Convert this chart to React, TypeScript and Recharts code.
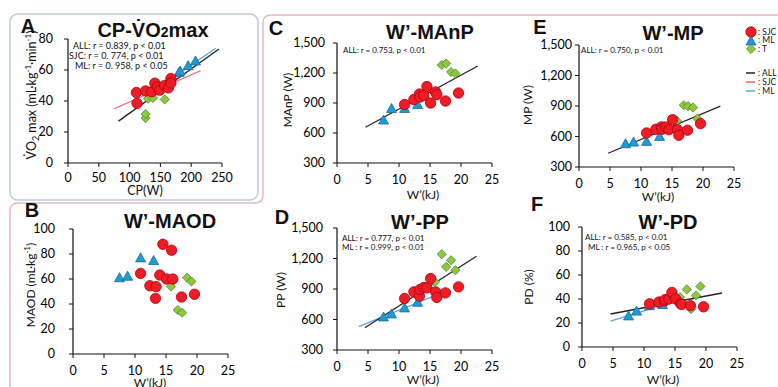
import React from 'react'
import { ScatterChart, Scatter, XAxis, YAxis, ReferenceLine } from 'recharts'

// W' (kJ) per subject, same subjects in panels B-F
const wSJC = [10.9, 12.4, 13.3, 13.4, 14.0, 14.5, 15.1, 15.9, 16.1, 17.5, 19.6]
const wML = [7.5, 8.8, 10.9, 13.0]
const wT = [15.8, 16.9, 17.6, 18.4, 19.1]

// A: CP (W) vs VO2max
const cpSJC = [111, 112, 126, 136, 141, 145, 149, 157, 163, 167, 167]
const vo2SJC = [45.5, 38.5, 46.5, 46, 51.5, 49, 47, 50, 48.5, 54.5, 51.5]
const cpML = [180, 182, 195, 207]
const vo2ML = [58, 59, 62.5, 65.5]
const cpT = [126, 126, 130, 138, 157]
const vo2T = [29, 31.5, 41.5, 42, 41]

// B: MAOD
const maodSJC = [64.5, 54.6, 44.5, 53.9, 63.2, 87.8, 60, 83, 60, 45.6, 47.8]
const maodML = [60.6, 61.8, 76.5, 74.4]
const maodT = [54, 35.2, 33, 61, 58]

// C: MAnP
const manpSJC = [885, 935, 990, 960, 975, 1065, 900, 1010, 985, 920, 1000]
const manpML = [725, 840, 840, 880]
const manpT = [1010, 1280, 1295, 1210, 1195]

// D: PP
const ppSJC = [807, 872, 830, 895, 915, 911, 1003, 872, 817, 862, 921]
const ppML = [620, 650, 709, 764]
const ppT = [970, 1242, 1118, 1183, 1085]

// E: MP
const mpSJC = [635, 671, 694, 671, 694, 667, 766, 667, 612, 662, 727]
const mpML = [524, 540, 547, 596]
const mpT = [753, 908, 898, 885, 776]

// F: PD
const pdSJC = [36, 37.5, 38.5, 39.5, 40, 45.5, 40, 36, 35.5, 34.5, 33.5]
const pdML = [25.5, 29.5, 34, 35]
const pdT = [41.5, 48, 31.5, 43, 50.5]

// regression line end points [x, y]
const lineA_ALL = [[82, 27], [245, 73.5]]
const lineA_SJC = [[75, 35], [215, 59.5]]
const lineA_ML = [[140, 47], [240, 74]]
const lineC_ALL = [[4.6, 658], [22.7, 1270]]
const lineD_ALL = [[4.5, 519], [22.5, 1222]]
const lineD_ML = [[3.5, 529], [15.6, 830]]
const lineE_ALL = [[4.7, 435], [22.8, 898]]
const lineF_ALL = [[4.6, 27.5], [22.6, 45]]
const lineF_ML = [[4.6, 21.5], [15, 38]]

const wTicks = [0, 5, 10, 15, 20, 25]
const cpTicks = [0, 50, 100, 150, 200, 250]
const vo2Ticks = [0, 20, 40, 60, 80]
const pctTicks = [0, 20, 40, 60, 80, 100]
const wattTicks = [300, 600, 900, 1200, 1500]

const FONT = 'Lato, "Open Sans", sans-serif'
const TITLE_FONT = '"Liberation Sans", Arial, sans-serif'
const BLACK = '#222'
const RED_LINE = '#f0607a'
const BLUE_LINE = '#5aa7e0'

const zip = (xs: number[], ys: number[]) => xs.map((x, i) => ({ x, y: ys[i] }))

const Circle = (p: any) => (
  <circle cx={p.cx} cy={p.cy} r={5.2} fill="#ee1c25" stroke="#b00010" strokeWidth={0.8} />
)
const Tri = (p: any) => (
  <polygon
    points={`${p.cx},${p.cy - 5.5} ${p.cx - 5},${p.cy + 3.5} ${p.cx + 5},${p.cy + 3.5}`}
    fill="#1d9bd7"
    stroke="#1a6a98"
    strokeWidth={0.8}
  />
)
const Diamond = (p: any) => (
  <polygon
    points={`${p.cx},${p.cy - 4.6} ${p.cx + 4.6},${p.cy} ${p.cx},${p.cy + 4.6} ${p.cx - 4.6},${p.cy}`}
    fill="#8dc63f"
    stroke="#4f8a2a"
    strokeWidth={0.8}
  />
)

type Seg = { pts: number[][]; color: string }

function Panel(props: {
  left: number
  top: number
  w: number
  h: number
  xDomain: number[]
  xTicks: number[]
  yDomain: number[]
  yTicks: number[]
  sjc: { x: number; y: number }[]
  ml: { x: number; y: number }[]
  t: { x: number; y: number }[]
  lines: Seg[]
  xGap: number
  yGap: number
}) {
  const yw = 50
  const mt = 12
  const mr = 18
  const xh = 30
  const tick = { fill: '#000', fontSize: 12.5, fontFamily: FONT }
  return (
    <div style={{ position: 'absolute', left: props.left - yw, top: props.top - mt }}>
      <ScatterChart
        width={props.w + yw + mr}
        height={props.h + mt + xh}
        margin={{ top: mt, right: mr, bottom: 0, left: 0 }}
      >
        <XAxis
          type="number"
          dataKey="x"
          domain={props.xDomain}
          ticks={props.xTicks}
          interval={0}
          height={xh}
          tick={tick}
          tickSize={4}
          tickMargin={props.xGap}
          axisLine={{ stroke: '#111', strokeWidth: 1.2 }}
          tickLine={{ stroke: '#111' }}
        />
        <YAxis
          type="number"
          dataKey="y"
          domain={props.yDomain}
          ticks={props.yTicks}
          interval={0}
          width={yw}
          tick={tick}
          tickSize={4}
          tickMargin={props.yGap}
          tickFormatter={(v: number) => v.toLocaleString('en-US')}
          axisLine={{ stroke: '#111', strokeWidth: 1.2 }}
          tickLine={{ stroke: '#111' }}
        />
        <Scatter data={props.t} shape={Diamond} isAnimationActive={false} />
        <Scatter data={props.ml} shape={Tri} isAnimationActive={false} />
        <Scatter data={props.sjc} shape={Circle} isAnimationActive={false} />
        {props.lines.map((l, i) => (
          <ReferenceLine
            key={i}
            segment={[
              { x: l.pts[0][0], y: l.pts[0][1] },
              { x: l.pts[1][0], y: l.pts[1][1] },
            ]}
            stroke={l.color}
            strokeWidth={1.3}
          />
        ))}
      </ScatterChart>
    </div>
  )
}

function Txt(props: {
  x: number
  y: number
  size?: number
  bold?: boolean
  rotate?: boolean
  left?: boolean
  font?: string
  children: React.ReactNode
}) {
  const tf = props.left
    ? 'translate(0,-50%)'
    : props.rotate
    ? 'translate(-50%,-50%) rotate(-90deg)'
    : 'translate(-50%,-50%)'
  return (
    <div
      style={{
        position: 'absolute',
        left: props.x,
        top: props.y,
        transform: tf,
        fontSize: props.size ?? 12,
        fontWeight: props.bold ? 700 : 400,
        fontFamily: props.font ?? FONT,
        whiteSpace: 'nowrap',
        lineHeight: 1,
        color: '#111',
      }}
    >
      {props.children}
    </div>
  )
}

const Title = ({ x, y, children }: { x: number; y: number; children: React.ReactNode }) => (
  <Txt x={x} y={y} size={20} bold font={TITLE_FONT}>
    {children}
  </Txt>
)

const Note = ({ x, y, children, size = 8 }: { x: number; y: number; children: React.ReactNode; size?: number }) => (
  <Txt x={x} y={y} size={size} left>
    {children}
  </Txt>
)

function LegendRow({ y, kind, label }: { y: number; kind: string; label: string }) {
  let mark: React.ReactNode = null
  if (kind === 'c') mark = <Circle cx={6} cy={5} />
  if (kind === 't') mark = <Tri cx={6} cy={5.5} />
  if (kind === 'd') mark = <Diamond cx={6} cy={5} />
  if (kind.startsWith('#')) mark = <line x1={1} x2={10} y1={5} y2={5} stroke={kind} strokeWidth={1.5} />
  return (
    <div
      style={{
        position: 'absolute',
        left: 745,
        top: y - 5,
        width: 34,
        height: 10,
        display: 'flex',
        alignItems: 'center',
        whiteSpace: 'nowrap',
      }}
    >
      <svg width={12} height={10} style={{ flexShrink: 0, overflow: 'visible' }}>{mark}</svg>
      <span style={{ fontFamily: FONT, fontSize: 8.5, color: '#111', marginLeft: 1, lineHeight: 1 }}>
        : {label}
      </span>
    </div>
  )
}

export default function App() {
  return (
    <div
      style={{
        position: 'absolute',
        left: 0,
        top: 0,
        width: 778,
        height: 387,
        background: '#fff',
        overflow: 'hidden',
      }}
    >
      <svg width={778} height={387} style={{ position: 'absolute', left: 0, top: 0 }}>
        <rect x={10} y={14} width={248} height={186} rx={8} fill="none" stroke="#b9cadb" strokeWidth={1.5} />
        <path
          d="M 10 400 L 10 211 Q 10 203 18 203 L 255 203 Q 263 203 263 195 L 263 23 Q 263 15 271 15 L 790 15"
          fill="none"
          stroke="#e7b9c7"
          strokeWidth={1.5}
        />
      </svg>

      {/* A */}
      <Panel
        left={68} top={39} w={154} h={124}
        xDomain={[0, 250]} xTicks={cpTicks} yDomain={[0, 80]} yTicks={vo2Ticks}
        sjc={zip(cpSJC, vo2SJC)} ml={zip(cpML, vo2ML)} t={zip(cpT, vo2T)}
        lines={[
          { pts: lineA_SJC, color: RED_LINE },
          { pts: lineA_ML, color: BLUE_LINE },
          { pts: lineA_ALL, color: BLACK },
        ]}
        xGap={6} yGap={11}
      />
      <Txt x={28} y={26} size={20} bold font={TITLE_FONT}>A</Txt>
      <Title x={153} y={30}>
        CP-V̇O<span style={{ fontSize: 14 }}>2</span>max
      </Title>
      <Note x={73} y={45} size={9}>ALL: r = 0.839, p &lt; 0.01</Note>
      <Note x={69} y={55} size={9}>SJC: r = 0. 774, p &lt; 0.01</Note>
      <Note x={75} y={65} size={9}>ML: r = 0. 958, p &lt; 0.05</Note>
      <Txt x={32} y={95} size={12.5} rotate>
        V̇O<sub style={{ fontSize: 9 }}>2</sub> max (mL·kg<sup style={{ fontSize: 8 }}>-1</sup>·min<sup style={{ fontSize: 8 }}>-1</sup>)
      </Txt>
      <Txt x={145} y={191} size={12.5}>CP(W)</Txt>

      {/* B */}
      <Panel
        left={73} top={229} w={155} h={125}
        xDomain={[0, 25]} xTicks={wTicks} yDomain={[0, 100]} yTicks={pctTicks}
        sjc={zip(wSJC, maodSJC)} ml={zip(wML, maodML)} t={zip(wT, maodT)}
        lines={[]}
        xGap={8} yGap={14}
      />
      <Txt x={32} y={210} size={20} bold font={TITLE_FONT}>B</Txt>
      <Title x={170} y={221}>W’-MAOD</Title>
      <Txt x={30} y={285} size={12} rotate>
        MAOD (mL·kg<sup style={{ fontSize: 8 }}>-1</sup>)
      </Txt>
      <Txt x={150} y={383} size={12}>W’(kJ)</Txt>

      {/* C */}
      <Panel
        left={337} top={43} w={155} h={120}
        xDomain={[0, 25]} xTicks={wTicks} yDomain={[300, 1500]} yTicks={wattTicks}
        sjc={zip(wSJC, manpSJC)} ml={zip(wML, manpML)} t={zip(wT, manpT)}
        lines={[{ pts: lineC_ALL, color: BLACK }]}
        xGap={8} yGap={8}
      />
      <Txt x={276} y={28} size={20} bold font={TITLE_FONT}>C</Txt>
      <Title x={430} y={32}>W’-MAnP</Title>
      <Note x={343} y={50}>ALL: r = 0.753, p &lt; 0.01</Note>
      <Txt x={288} y={100} size={12} rotate>MAnP (W)</Txt>
      <Txt x={423} y={195} size={12}>W’(kJ)</Txt>

      {/* D */}
      <Panel
        left={337} top={228} w={155} h={122}
        xDomain={[0, 25]} xTicks={wTicks} yDomain={[300, 1500]} yTicks={wattTicks}
        sjc={zip(wSJC, ppSJC)} ml={zip(wML, ppML)} t={zip(wT, ppT)}
        lines={[
          { pts: lineD_ML, color: BLUE_LINE },
          { pts: lineD_ALL, color: BLACK },
        ]}
        xGap={8} yGap={10}
      />
      <Txt x={282} y={217} size={20} bold font={TITLE_FONT}>D</Txt>
      <Title x={420} y={222}>W’-PP</Title>
      <Note x={342} y={238}>ALL: r = 0.777, p &lt; 0.01</Note>
      <Note x={342} y={247}>ML : r = 0.999, p &lt; 0.01</Note>
      <Txt x={281} y={290} size={12} rotate>PP (W)</Txt>
      <Txt x={423} y={380} size={12}>W’(kJ)</Txt>

      {/* E */}
      <Panel
        left={579} top={45} w={155} h={122}
        xDomain={[0, 25]} xTicks={wTicks} yDomain={[300, 1500]} yTicks={wattTicks}
        sjc={zip(wSJC, mpSJC)} ml={zip(wML, mpML)} t={zip(wT, mpT)}
        lines={[{ pts: lineE_ALL, color: BLACK }]}
        xGap={8} yGap={3}
      />
      <Txt x={540} y={27} size={20} bold font={TITLE_FONT}>E</Txt>
      <Title x={673} y={33}>W’-MP</Title>
      <Note x={581} y={50}>ALL: r = 0.750, p &lt; 0.01</Note>
      <Txt x={528} y={105} size={12} rotate>MP (W)</Txt>
      <Txt x={658} y={197} size={12}>W’(kJ)</Txt>
      <LegendRow y={32} kind="c" label="SJC" />
      <LegendRow y={40.5} kind="t" label="ML" />
      <LegendRow y={49} kind="d" label="T" />
      <LegendRow y={73} kind={BLACK} label="ALL" />
      <LegendRow y={82} kind={RED_LINE} label="SJC" />
      <LegendRow y={91} kind={BLUE_LINE} label="ML" />

      {/* F */}
      <Panel
        left={582} top={227} w={155} h={120}
        xDomain={[0, 25]} xTicks={wTicks} yDomain={[0, 100]} yTicks={pctTicks}
        sjc={zip(wSJC, pdSJC)} ml={zip(wML, pdML)} t={zip(wT, pdT)}
        lines={[
          { pts: lineF_ML, color: BLUE_LINE },
          { pts: lineF_ALL, color: BLACK },
        ]}
        xGap={8} yGap={8}
      />
      <Txt x={537} y={204} size={20} bold font={TITLE_FONT}>F</Txt>
      <Title x={668} y={222}>W’-PD</Title>
      <Note x={585} y={237}>ALL: r = 0.585, p &lt; 0.01</Note>
      <Note x={588} y={247}>ML : r = 0.965, p &lt; 0.05</Note>
      <Txt x={529} y={287} size={12} rotate>PD (%)</Txt>
      <Txt x={663} y={380} size={12}>W’(kJ)</Txt>
    </div>
  )
}
